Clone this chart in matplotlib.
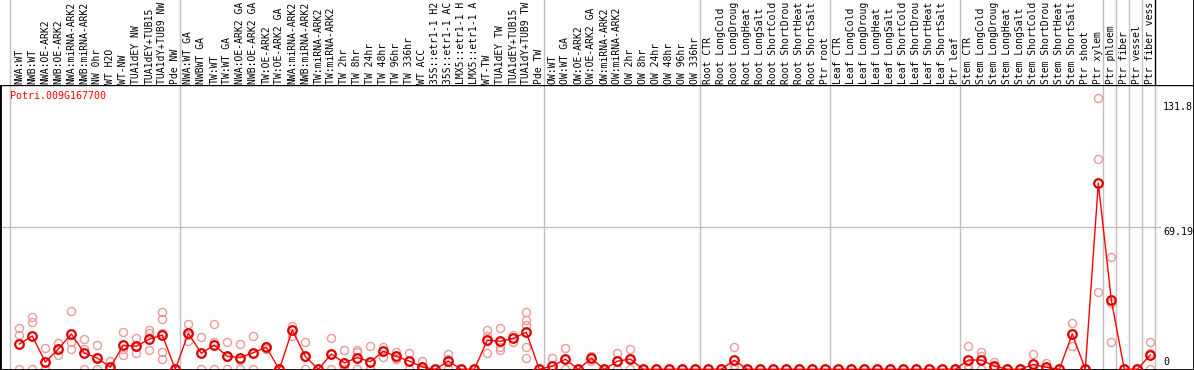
import numpy as np
import matplotlib
matplotlib.use("Agg")
import matplotlib.pyplot as plt

# ---------------------------------------------------------------------------
# Data (Potri.009G167700 expression profile)
# ---------------------------------------------------------------------------
GENE = "Potri.009G167700"

grp_nw = ["NWA:WT", "NWB:WT", "NWA:OE-ARK2", "NWB:OE-ARK2", "NWA:miRNA-ARK2",
          "NWB:miRNA-ARK2", "NW 0hr", "WT H2O", "WT-NW", "TUA1dEY NW",
          "TUA1dEY+TUB15", "TUA1dY+TUB9 NW", "Pde NW"]
grp_tw = ["NWA:WT GA", "NWBWT GA", "TW:WT", "TW:WT GA", "NWA:OE-ARK2 GA",
          "NWB:OE-ARK2 GA", "TW:OE-ARK2", "TW:OE-ARK2 GA", "NWA:miRNA-ARK2 GA",
          "NWB:miRNA-ARK2 GA", "TW:miRNA-ARK2", "TW:miRNA-ARK2 GA", "TW 2hr",
          "TW 8hr", "TW 24hr", "TW 48hr", "TW 96hr", "TW 336hr", "WT ACC",
          "35S::etr1-1 H2O", "35S::etr1-1 ACC", "LMX5::etr1-1 H2O",
          "LMX5::etr1-1 ACC", "WT-TW", "TUA1dEY TW", "TUA1dEY+TUB15",
          "TUA1dY+TUB9 TW", "Pde TW"]
grp_ow = ["OW:WT", "OW:WT GA", "OW:OE-ARK2", "OW:OE-ARK2 GA", "OW:miRNA-ARK2",
          "OW:miRNA-ARK2 GA", "OW 2hr", "OW 8hr", "OW 24hr", "OW 48hr",
          "OW 96hr", "OW 336hr"]
stress = ["CTR", "LongCold", "LongDrought", "LongHeat", "LongSalt",
          "ShortCold", "ShortDrought", "ShortHeat", "ShortSalt"]
grp_root = ["Root " + s for s in stress] + ["Ptr root"]
grp_leaf = ["Leaf " + s for s in stress] + ["Ptr leaf"]
grp_stem = ["Stem " + s for s in stress] + ["Ptr shoot", "Ptr xylem"]
grp_tail = [["Ptr phloem"], ["Ptr fiber"], ["Ptr vessel"], ["Ptr fiber vessel"]]

groups = [grp_nw, grp_tw, grp_ow, grp_root, grp_leaf, grp_stem] + grp_tail
# the viewer cuts sample names to 14 characters
labels = [l[:14] for g in groups for l in g]

means = [12.3, 16.2, 3.5, 9.9, 17.2, 7.9, 5.5, 1.0, 11.7, 11.2, 14.7, 16.7, 0,
         17.5, 7.8, 11.8, 6.3, 5.7, 8.1, 10.7, 0, 19.1, 6.3, 0, 7.4, 3.1, 5.7,
         3.7, 8.7, 6.3, 4.0, 1.1, 0, 4.0, 0, 0, 14.1, 13.6, 15.1, 18.0, 0,
         1.5, 4.9, 0, 5.3, 0, 3.9, 5.0, 0, 0, 0, 0, 0,
         0, 0, 4.4, 0, 0, 0, 0, 0, 0, 0,
         0, 0, 0, 0, 0, 0, 0, 0, 0, 0,
         4.5, 4.5, 1.6, 0, 0, 2.4, 1.0, 0, 17.2, 0, 90.5,
         33.7, 0, 0, 7.0]

reps = [[19.9, 16.7, 0], [25.6, 23.2, 0], [10.2, 0, 0], [12.9, 9.9, 7.0],
        [28.2, 13.4, 9.9], [14.6, 9.9, 0], [12.0, 6.0, 0], [4.2, 0, 0],
        [18.0, 10.0, 7.0], [15.1, 11.0, 7.8], [19.1, 17.5, 9.4],
        [27.9, 24.3, 17.5, 8.6, 4.9], [0, 0, 0],
        [22.0, 16.7, 13.8], [15.6, 7.8, 0], [22.0, 13.4, 0], [13.1, 5.8, 0],
        [12.3, 4.7, 0], [16.2, 8.1, 0], [11.3, 10.7, 10.0], [0, 0, 0],
        [21.1, 19.1, 16.3], [13.1, 6.0, 0], [0, 0, 0], [15.1, 7.2, 0],
        [9.2, 0, 0], [9.2, 8.6, 0], [11.3, 0, 0], [11.0, 8.7, 5.8],
        [8.3, 5.7, 4.9], [7.9, 4.0, 0], [3.9, 0, 0], [0, 0, 0],
        [7.3, 5.0, 0], [0, 0, 0], [0, 0, 0], [19.1, 16.0, 7.8],
        [19.9, 11.0, 9.4], [16.7, 15.1, 13.4], [27.9, 24.0, 21.5, 11.0, 5.3],
        [0, 0, 0],
        [5.3, 0, 0], [10.2, 4.9, 0], [0, 0, 0], [6.5, 5.5, 4.0], [0, 0, 0],
        [7.9, 3.9, 0], [9.7, 5.3, 0], [0, 0, 0], [0, 0, 0], [0, 0, 0],
        [0, 0, 0], [0, 0, 0],
        [0, 0, 0], [0, 0, 0], [10.7, 2.1, 0], [0, 0, 0], [0, 0, 0], [0, 0, 0],
        [0, 0, 0], [0, 0, 0], [0, 0, 0], [0, 0, 0],
        [0, 0, 0], [0, 0, 0], [0, 0, 0], [0, 0, 0], [0, 0, 0], [0, 0, 0],
        [0, 0, 0], [0, 0, 0], [0, 0, 0], [0, 0, 0],
        [11.3, 2.1, 0], [8.6, 6.5, 0], [3.7, 1.0, 0], [0, 0, 0], [0, 0, 0],
        [7.4, 0, 0], [2.9, 0, 0], [0, 0, 0], [22.4, 17.2, 11.5], [0, 0, 0],
        [131.8, 102.1, 37.5],
        [54.5, 32.4, 13.4], [0, 0, 0], [0, 0, 0], [13.4, 8.0, 0]]

ytick_vals = [131.8, 69.19, 0]

# ---------------------------------------------------------------------------
# Layout (pixel geometry of the reference, 1194 x 370)
# ---------------------------------------------------------------------------
W, H = 1194, 370
HEAD = 85                      # header band height in px
X0, DX = 19.3, 13.0            # px of first column centre, column pitch
Y0_PX = 369.3                  # px row of value 0
PX_PER_UNIT = 2.056

MONO = "DejaVu Sans Mono"
FS = 7.0
GRAY = "#c0c0c0"
PINK = "#ee9a9a"

x = np.arange(len(labels))
xlim = (-X0 / DX, (W - X0) / DX)
ylim = (-(H - Y0_PX) / PX_PER_UNIT, (Y0_PX - HEAD) / PX_PER_UNIT)

# separators: after the last column of each group, plus one before the first
ends = np.cumsum([len(g) for g in groups]) - 1
seps = [-0.68] + [e + 0.38 for e in ends]

fig = plt.figure(figsize=(W / 100, H / 100), dpi=100)
fig.patch.set_facecolor("white")

ax = fig.add_axes([0, 0, 1, (H - HEAD) / H])
hd = fig.add_axes([0, (H - HEAD) / H, 1, HEAD / H], sharex=ax)

# --- main plot -------------------------------------------------------------
ax.set_xlim(*xlim)
ax.set_ylim(*ylim)
ax.set_xticks([])
ax.set_yticks([])
for side in ["left", "right", "bottom"]:
    ax.spines[side].set_linewidth(2.0)
ax.spines["top"].set_linewidth(1.0)

for s in seps:
    ax.axvline(s, color=GRAY, lw=1.0, zorder=1)
ax.plot([xlim[0], (1160 - X0) / DX], [ytick_vals[1]] * 2, color=GRAY,
        lw=1.0, zorder=1)

for i, r in enumerate(reps):
    ax.plot([i] * len(r), r, "o", ms=5.8, mfc="none", mec=PINK, mew=1.0,
            clip_on=False, zorder=2)
ax.plot(x, means, "-", color="red", lw=1.0, zorder=3, clip_on=False)
ax.plot(x, means, "o", ms=6.2, mfc="none", mec="#e00000", mew=1.6,
        clip_on=False, zorder=4)

ax.text(10 / W, 1 - (96 - HEAD) / (H - HEAD), GENE, transform=ax.transAxes,
        color="red", fontsize=7.2, family=MONO, ha="left", va="center")

xl = (1163 - X0) / DX
for v, off in zip(ytick_vals, [-9, -4.7, 7.6]):
    ax.annotate(f"{v:g}", (xl, v), xytext=(0, off), textcoords="offset pixels",
                fontsize=7.2, family=MONO, ha="left", va="center")

# --- header with rotated sample names ------------------------------------
hd.set_ylim(0, 1)
hd.set_xticks([])
hd.set_yticks([])
for side in ["left", "top", "bottom"]:
    hd.spines[side].set_visible(False)
hd.spines["right"].set_linewidth(2.0)
for s in seps[:-1]:
    hd.axvline(s, color=GRAY, lw=1.0)
hd.axvline(seps[-1], color="black", lw=1.0)

for i, lab in enumerate(labels):
    hd.text(i, 1.5 / HEAD, lab, rotation=90, ha="center", va="bottom",
            fontsize=FS, family=MONO, clip_on=False)

fig.savefig("out.png", dpi=100)
